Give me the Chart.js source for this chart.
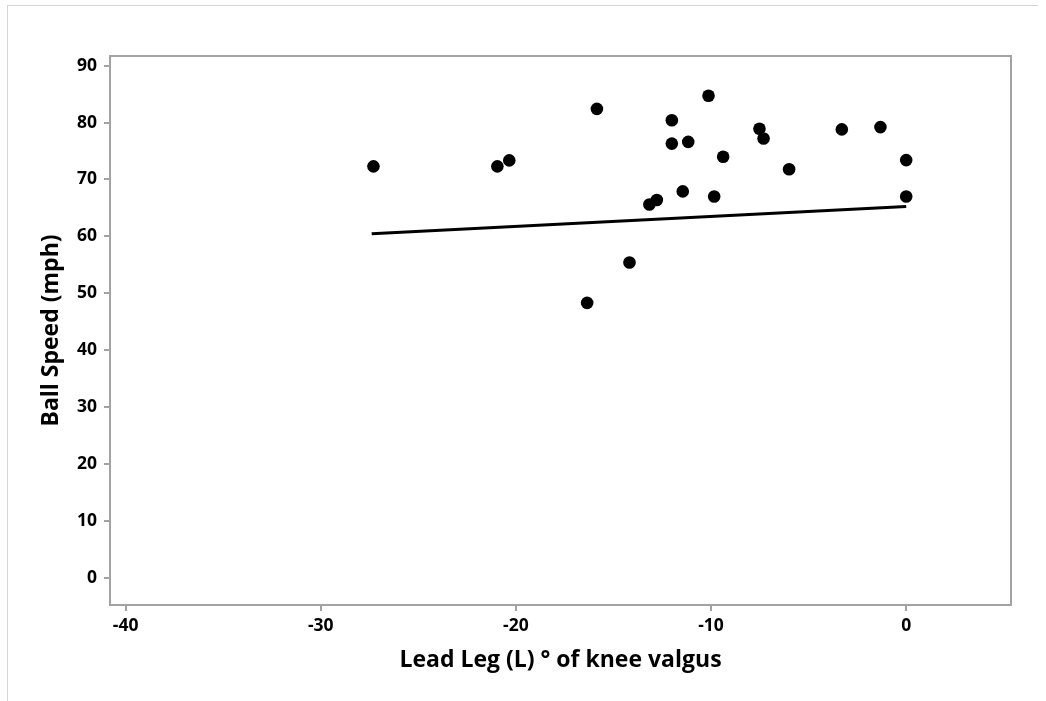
<!DOCTYPE html>
<html>
<head>
<meta charset="utf-8">
<script src="https://cdn.jsdelivr.net/npm/chart.js@4/dist/chart.umd.min.js"></script>
<style>
  html, body { margin: 0; padding: 0; background: #fff; }
  #wrap { position: relative; width: 1046px; height: 701px; }
  #frame {
    position: absolute; left: 7px; top: 5px; width: 1030px; height: 696px;
    border-top: 1px solid #d6d6d6; border-left: 1px solid #d6d6d6;
  }
  canvas { position: absolute; left: 0; top: 0; }
</style>
</head>
<body>
<div id="wrap">
  <div id="frame"></div>
  <canvas id="chart" width="1046" height="701"></canvas>
</div>
<script>
// knee valgus (deg) vs ball speed
const valgus = [-27.3, -20.95, -20.34, -15.85, -12.01, -12.01, -13.16, -12.78, -14.18, -16.35, -10.13,
  -11.17, -9.38, -7.52, -7.31, -3.3, -1.32, 0, 0, -6.0, -11.45, -9.84]
const ballSpeed = [72.3, 72.3, 73.35, 82.4, 80.4, 76.3, 65.6, 66.4, 55.4, 48.3, 84.7,
  76.6, 74.0, 78.9, 77.2, 78.8, 79.2, 73.4, 67.0, 71.8, 67.9, 67.0]

// fitted line endpoints
const fitX = [-27.39, 0]
const fitY = [60.45, 65.25]

const xTicks = [-40, -30, -20, -10, 0]
const yTicks = [0, 10, 20, 30, 40, 50, 60, 70, 80, 90]

const axisGray = '#a3a3a3'
const labelFont = { family: "'Open Sans', 'Noto Sans', sans-serif", size: 17.5, weight: 'bold' }
const titleFont = { family: "'Open Sans', 'Noto Sans', sans-serif", size: 23, weight: 'bold' }

// closes the plot box on the top and right
const plotBox = {
  id: 'plotBox',
  afterDraw(chart) {
    const { ctx, chartArea: a } = chart
    ctx.save()
    ctx.strokeStyle = axisGray
    ctx.lineWidth = 2
    ctx.beginPath()
    ctx.moveTo(a.left, a.top)
    ctx.lineTo(a.right, a.top)
    ctx.lineTo(a.right, a.bottom)
    ctx.stroke()
    ctx.restore()
  }
}

new Chart(document.getElementById('chart').getContext('2d'), {
  type: 'scatter',
  data: {
    datasets: [{
      label: 'Ball Speed',
      data: valgus.map((x, i) => ({ x: x, y: ballSpeed[i] })),
      backgroundColor: '#000',
      borderColor: '#000',
      pointRadius: 6.3,
      pointHoverRadius: 6.3,
      borderWidth: 0
    }, {
      label: 'Fit',
      data: fitX.map((x, i) => ({ x: x, y: fitY[i] })),
      showLine: true,
      borderColor: '#000',
      borderWidth: 3,
      pointRadius: 0,
      fill: false
    }]
  },
  options: {
    responsive: false,
    animation: false,
    layout: { padding: { left: 0, top: 56, right: 35, bottom: 0 } },
    plugins: {
      legend: { display: false },
      tooltip: { enabled: false }
    },
    scales: {
      x: {
        type: 'linear',
        min: -40.8,
        max: 5.37,
        afterBuildTicks: (scale) => { scale.ticks = xTicks.map(v => ({ value: v })) },
        afterFit: (scale) => { scale.height = 96 },
        grid: { display: true, drawOnChartArea: false, drawTicks: true, tickLength: 6, color: axisGray, lineWidth: 2 },
        border: { display: true, color: axisGray, width: 2 },
        ticks: { color: '#000', font: labelFont, padding: 5, maxRotation: 0 },
        title: { display: true, text: 'Lead Leg (L) ° of knee valgus', color: '#000', font: titleFont, padding: { top: 0, bottom: 27 } }
      },
      y: {
        type: 'linear',
        min: -4.8,
        max: 91.7,
        afterBuildTicks: (scale) => { scale.ticks = yTicks.map(v => ({ value: v })) },
        afterFit: (scale) => { scale.width = 110 },
        grid: { display: true, drawOnChartArea: false, drawTicks: true, tickLength: 6, color: axisGray, lineWidth: 2 },
        border: { display: true, color: axisGray, width: 2 },
        ticks: { color: '#000', font: labelFont, padding: 7 },
        title: { display: true, text: 'Ball Speed (mph)', color: '#000', font: titleFont, padding: { top: 38, bottom: 0 } }
      }
    }
  },
  plugins: [plotBox]
})
</script>
</body>
</html>
